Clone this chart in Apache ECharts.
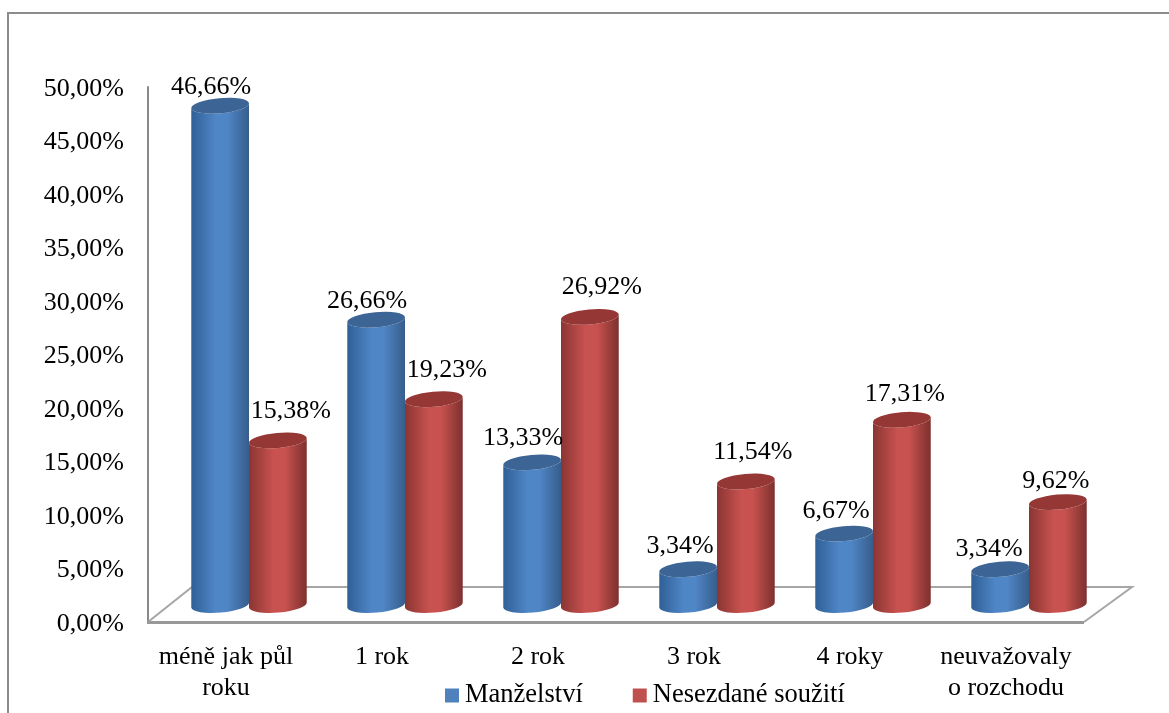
<!DOCTYPE html>
<html>
<head>
<meta charset="utf-8">
<style>html,body{margin:0;padding:0;background:#fff}#c{width:1169px;height:713px}</style>
<script src="https://cdn.jsdelivr.net/npm/echarts@6/dist/echarts.min.js"></script>
</head>
<body>
<div id="c"></div>
<script>
const categories = ['méně jak půl\nroku', '1 rok', '2 rok', '3 rok', '4 roky', 'neuvažovaly\no rozchodu'];
const seriesNames = ['Manželství', 'Nesezdané soužití'];
const manzelstvi = [46.66, 26.66, 13.33, 3.34, 6.67, 3.34];
const nesezdane = [15.38, 19.23, 26.92, 11.54, 17.31, 9.62];
const FONT = '"Liberation Serif", serif';
const FS = 26;

// label nudges [dx, dy] from the top of each cylinder, as placed in the original
const nudgeA = [[-9,-19],[-9,-19],[-9,-24],[-8,-23],[-8,-22],[-11,-20]];
const nudgeB = [[13,-29],[13,-29],[12,-30],[7,-29],[3,-26],[-2,-21]];

const fmt = v => v.toFixed(2).replace('.', ',') + '%';
const shade = (dark1, light, dark2) => new echarts.graphic.LinearGradient(0, 0, 1, 0, [
  {offset: 0, color: dark1}, {offset: 0.42, color: light}, {offset: 0.62, color: light}, {offset: 1, color: dark2}
]);
const palette = [
  {body: ['#2f5f96', '#4f86c6', '#375d8c'], cap: '#3c6494', legend: '#4f81bd'},
  {body: ['#8a3533', '#c8524f', '#7c302e'], cap: '#953735', legend: '#c0504d'}
];

function cylinder(idx) {
  const side = idx === 0 ? -1 : 1;
  return function (params, api) {
    const cat = api.value(0), val = api.value(1);
    const top = api.coord([cat, val]);
    const base = api.coord([cat, 0]);
    const band = api.size([1, 0])[0];
    const a = band * 0.185, b = 7.5, t = 2.6;
    const cx = top[0] + side * a;
    const rot = -5;
    const xl = cx - a, xr = cx + a;
    const pal = palette[idx];
    const bodyPath = `M${xl} ${top[1]+t}L${xl} ${base[1]+t}A${a} ${b} ${rot} 0 0 ${xr} ${base[1]-t}L${xr} ${top[1]-t}A${a} ${b} ${rot} 0 1 ${xl} ${top[1]+t}Z`;
    const capPath = `M${xl} ${top[1]+t}A${a} ${b} ${rot} 0 1 ${xr} ${top[1]-t}A${a} ${b} ${rot} 0 1 ${xl} ${top[1]+t}Z`;
    return {
      type: 'group',
      children: [
        {type: 'path', shape: {pathData: bodyPath}, style: {fill: shade(...pal.body)}},
        {type: 'path', shape: {pathData: capPath}, style: {fill: pal.cap}}
      ]
    };
  };
}

function valueLabel(idx) {
  const side = idx === 0 ? -1 : 1;
  const nudge = idx === 0 ? nudgeA : nudgeB;
  return function (params, api) {
    const cat = api.value(0), val = api.value(1);
    const top = api.coord([cat, val]);
    const band = api.size([1, 0])[0];
    const n = nudge[cat];
    return {
      type: 'text',
      style: {
        text: fmt(val),
        x: top[0] + side * band * 0.185 + n[0],
        y: top[1] + n[1],
        align: 'center', verticalAlign: 'middle',
        font: FS + 'px ' + FONT, fill: '#000'
      }
    };
  };
}

const rows = arr => arr.map((v, i) => [i, v]);
const barSeries = (name, arr, idx) => ({
  name, type: 'custom', xAxisIndex: 1, yAxisIndex: 1, z: 3 + idx,
  renderItem: cylinder(idx), data: rows(arr), encode: {x: 0, y: 1}, clip: false, silent: true
});
const labelSeries = (arr, idx) => ({
  type: 'custom', xAxisIndex: 1, yAxisIndex: 1, z: 6,
  renderItem: valueLabel(idx), data: rows(arr), encode: {x: 0, y: 1}, clip: false, silent: true
});

const chart = echarts.init(document.getElementById('c'), null, {renderer: 'canvas'});
chart.setOption({
  animation: false,
  backgroundColor: '#fff',
  grid: [
    {left: 148, top: 87, width: 936, height: 535},
    {left: 171, top: 70, width: 936, height: 535},
    {left: 148, top: 89, width: 936, height: 535}
  ],
  xAxis: [
    {type: 'category', gridIndex: 0, data: categories, boundaryGap: true,
     axisLine: {show: false}, axisTick: {show: false},
     axisLabel: {interval: 0, margin: 20, fontFamily: FONT, fontSize: FS, color: '#000', lineHeight: 31}},
    {type: 'category', gridIndex: 1, data: categories, show: false},
    {type: 'category', gridIndex: 2, data: categories, show: false}
  ],
  yAxis: [
    {type: 'value', gridIndex: 0, min: 0, max: 50, interval: 5,
     axisLine: {show: true, lineStyle: {color: '#898989', width: 2}},
     axisTick: {show: false}, splitLine: {show: false}, axisLabel: {show: false}},
    {type: 'value', gridIndex: 1, min: 0, max: 50, interval: 5, show: false},
    {type: 'value', gridIndex: 2, min: 0, max: 50, interval: 5,
     axisLine: {show: false}, axisTick: {show: false}, splitLine: {show: false},
     axisLabel: {margin: 24, fontFamily: FONT, fontSize: FS, color: '#000', formatter: v => fmt(v)}}
  ],
  legend: {
    left: 440, top: 677, itemWidth: 14, itemHeight: 14, itemGap: 50,
    textStyle: {fontFamily: FONT, fontSize: 26.5, color: '#000', padding: [0, 0, 0, 1]},
    data: [
      {name: seriesNames[0], icon: 'rect', itemStyle: {color: palette[0].legend}},
      {name: seriesNames[1], icon: 'rect', itemStyle: {color: palette[1].legend}}
    ],
    selectedMode: false
  },
  graphic: [
    {type: 'polyline', z: 1, silent: true, shape: {points: [[1169, 13], [8, 13], [8, 713]]},
     style: {stroke: '#8c8c8c', lineWidth: 2, fill: null}},
    {type: 'polyline', z: 1, silent: true, shape: {points: [[148, 622], [192, 587], [1132, 587], [1084, 622]]},
     style: {stroke: '#a6a6a6', lineWidth: 2, fill: null}},
    {type: 'line', z: 1, silent: true, shape: {x1: 147, y1: 622.5, x2: 1084, y2: 622.5},
     style: {stroke: '#989898', lineWidth: 3}}
  ],
  series: [
    barSeries(seriesNames[0], manzelstvi, 0),
    barSeries(seriesNames[1], nesezdane, 1),
    labelSeries(manzelstvi, 0),
    labelSeries(nesezdane, 1)
  ]
});
</script>
</body>
</html>
